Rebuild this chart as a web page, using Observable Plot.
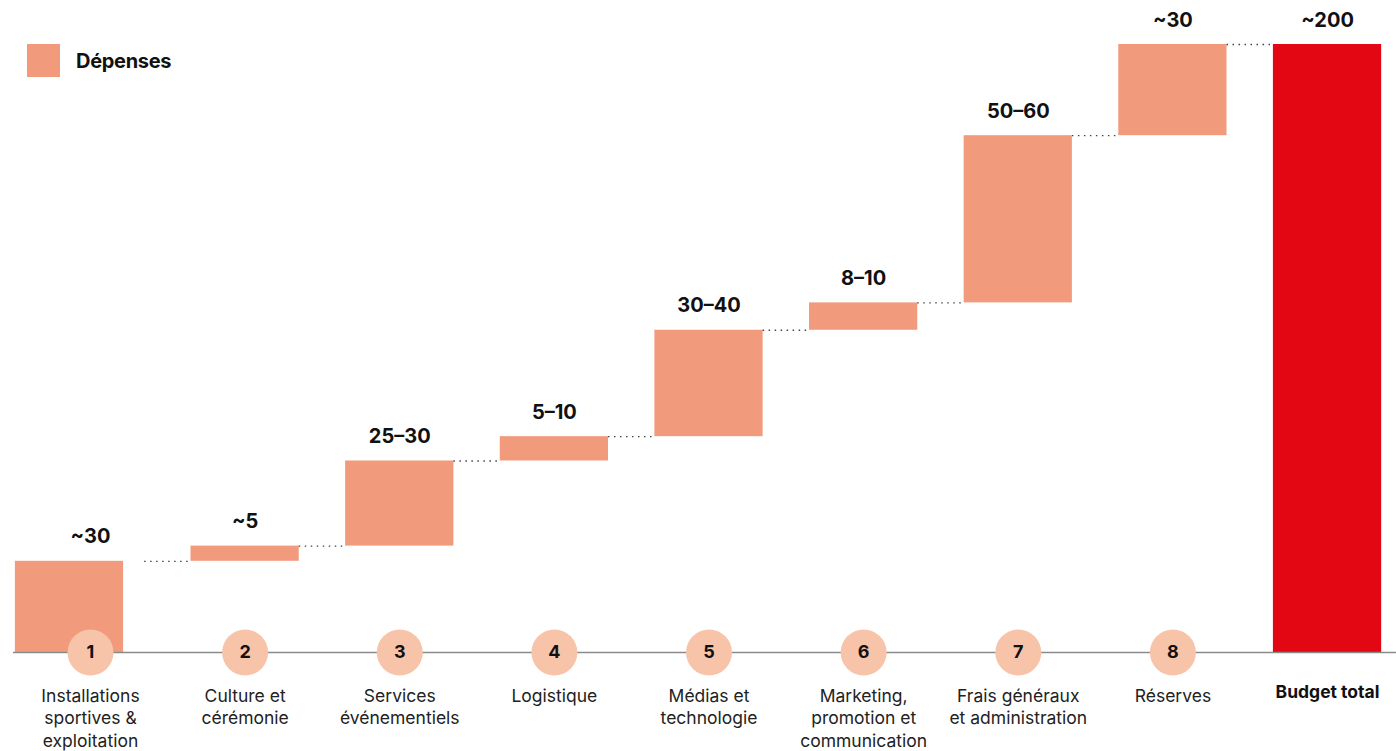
<!DOCTYPE html>
<html><head><meta charset="utf-8">
<script src="https://cdn.jsdelivr.net/npm/d3@7"></script>
<script src="https://cdn.jsdelivr.net/npm/@observablehq/plot@0.6"></script>
<style>
body{margin:0;background:#fff;font-family:Inter,"Liberation Sans",sans-serif;}
#wrap{position:relative;width:1396px;height:751px;overflow:hidden;}
#legend{position:absolute;left:27px;top:44px;display:flex;align-items:center;gap:16px;font-weight:700;font-size:20px;letter-spacing:-0.3px;color:#111;}
#legend .sw{width:33px;height:33px;background:#f19b7c;display:inline-block}
svg text.cat{letter-spacing:-0.4px}
svg text.val{letter-spacing:-0.2px}
</style></head><body>
<div id="wrap"><div id="legend"><span class="sw"></span><span>Dépenses</span></div></div>
<script>
const categories = [
  "Installations\nsportives &\nexploitation",
  "Culture et\ncérémonie",
  "Services\névénementiels",
  "Logistique",
  "Médias et\ntechnologie",
  "Marketing,\npromotion et\ncommunication",
  "Frais généraux\net administration",
  "Réserves",
  "Budget total"
];
const numbers = ["1", "2", "3", "4", "5", "6", "7", "8"];
const values = [30, 5, 28, 8, 35, 9, 55, 30];
const total = 200;
const valueLabels = ["~30", "~5", "25–30", "5–10", "30–40", "8–10", "50–60", "~30", "~200"];

const ends = d3.cumsum(values);
const rows = categories.map((c, i) => i < values.length
  ? {i, cat: c, num: numbers[i], y1: ends[i] - values[i], y2: ends[i], label: valueLabels[i], total: false}
  : {i, cat: c, num: "", y1: 0, y2: total, label: valueLabels[i], total: true});
const steps = rows.filter(d => !d.total);
const links = steps.map(d => ({i: d.i, y: d.y2}));
const half = 0.35;

const chart = Plot.plot({
  width: 1396, height: 751,
  marginLeft: 0, marginRight: 0, marginTop: 44, marginBottom: 99,
  x: {type: "linear", domain: [-0.582, 8.446], axis: null},
  y: {domain: [0, 200], axis: null},
  style: {fontFamily: "Inter, 'Liberation Sans', sans-serif", color: "#111", background: "transparent"},
  marks: [
    Plot.rect(steps.filter(d => d.i === 0), {x1: d => d.i - half, x2: d => d.i + half, y1: "y1", y2: "y2", fill: "#f19b7c", dx: -21}),
    Plot.rect(steps.filter(d => d.i > 0), {x1: d => d.i - half, x2: d => d.i + half, y1: "y1", y2: "y2", fill: "#f19b7c"}),
    Plot.rect(rows.filter(d => d.total), {x1: d => d.i - half, x2: d => d.i + half, y1: "y1", y2: "y2", fill: "#e30613"}),
    Plot.ruleY(links, {x1: d => d.i + half, x2: d => d.i + 1 - half, y: "y", stroke: "#444", strokeWidth: 1.3, strokeDasharray: "1.5,4.5"}),
    Plot.ruleY([0], {stroke: "#8a8a8a", strokeWidth: 1.5, insetLeft: 13}),
    Plot.dot(steps, {x: "i", y: () => 0, r: 23, fill: "#f7c3a9"}),
    Plot.text(steps, {x: "i", y: () => 0, text: "num", fontWeight: 700, fontSize: 18, fill: "#111"}),
    Plot.text(rows, {x: "i", y: "y2", text: "label", fontWeight: 700, fontSize: 20, lineAnchor: "bottom", dy: -18, fill: "#111", className: "val"}),
    Plot.text(steps, {x: "i", y: () => 0, text: "cat", lineAnchor: "top", dy: 33, fontSize: 17.5, lineHeight: 1.3, fill: "#222", className: "cat"}),
    Plot.text(rows.filter(d => d.total), {x: "i", y: () => 0, text: "cat", lineAnchor: "top", dy: 33, fontSize: 17.5, fontWeight: 700, fill: "#111", className: "cat"})
  ]
});
document.getElementById("wrap").prepend(chart);
</script>
</body></html>
